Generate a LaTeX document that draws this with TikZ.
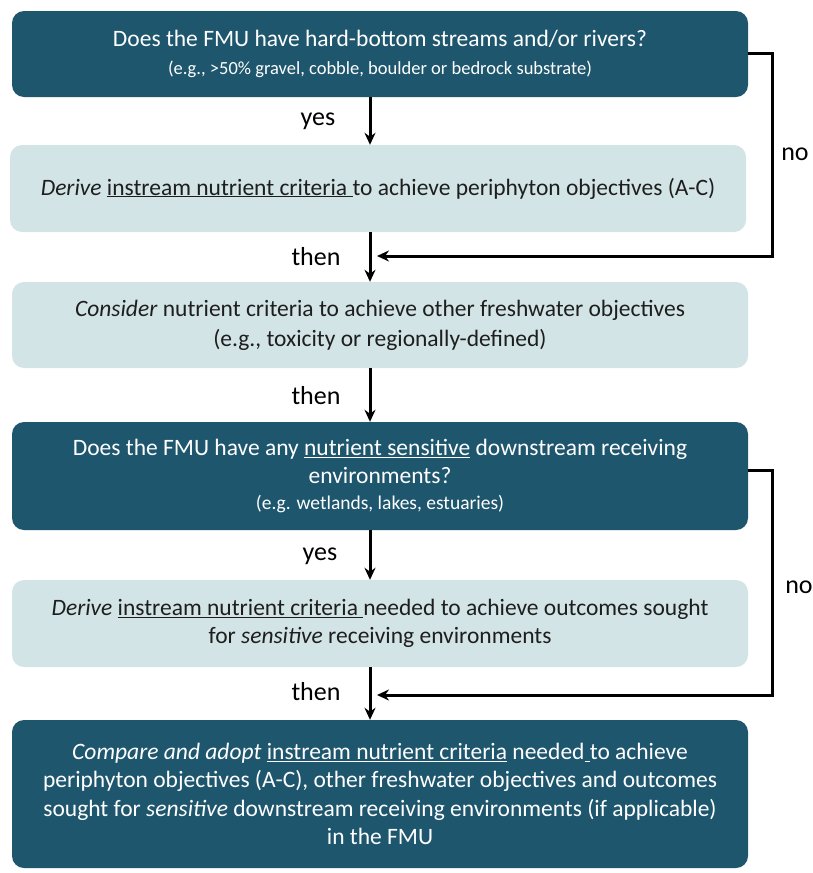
\documentclass[tikz,border=0pt]{standalone}
\usepackage{fontspec}
\setmainfont{Carlito}
\usetikzlibrary{arrows.meta}
\definecolor{darkbox}{RGB}{30,86,110}
\definecolor{lightbox}{RGB}{210,228,230}
\definecolor{txt}{RGB}{30,30,30}
\tikzset{
  box/.style={rounded corners=12pt, minimum width=736pt, align=center, inner sep=0pt},
  dark/.style={box, fill=darkbox, text=white},
  light/.style={box, fill=lightbox, text=txt},
  main/.style={font=\fontsize{23.5}{28.5}\selectfont},
  arr/.style={line width=3pt, -{Stealth[length=12pt,width=11pt]}},
  lbl/.style={font=\fontsize{26}{30}\selectfont, text=black}
}
\newcommand{\smalltxta}{\fontsize{18.5}{22}\selectfont}
\newcommand{\smalltxtb}{\fontsize{19.5}{22}\selectfont}
\begin{document}
\begin{tikzpicture}[x=1pt,y=-1pt]
\useasboundingbox (0,0) rectangle (813,873);
\node[dark, main, minimum height=86pt] (b1) at (380,54) {Does the FMU have hard-bottom streams and/or rivers?\\[-1pt]{\smalltxta (e.g., >50\% gravel, cobble, boulder or bedrock substrate)}};
\node[light, main, minimum height=87pt] (b2) at (378,188.5) {\textit{Derive} \underline{instream nutrient criteria\ }to achieve periphyton objectives (A-C)};
\node[light, main, minimum height=86pt] (b3) at (380,325) {\textit{Consider} nutrient criteria to achieve other freshwater objectives\\[1.5pt](e.g., toxicity or regionally-defined)};
\node[dark, main, minimum height=108pt] (b4) at (380,476) {Does the FMU have any \underline{nutrient sensitive} downstream receiving\\environments?\\[-3pt]{\smalltxtb (e.g. wetlands, lakes, estuaries)}};
\node[light, main, minimum height=87pt] (b5) at (380,623.5) {\textit{Derive} \underline{instream nutrient criteria\ }needed to achieve outcomes sought\\for \textit{sensitive} receiving environments};
\node[dark, main, minimum height=148pt] (b6) at (380,794) {\textit{Compare and adopt} \underline{instream nutrient criteria} needed\underline{\ }to achieve\\periphyton objectives (A-C), other freshwater objectives and outcomes\\sought for \textit{sensitive} downstream receiving environments (if applicable)\\in the FMU};
\coordinate (col) at (370,0);
\draw[arr] (b1.south -| col) -- (b2.north -| col);
\draw[arr] (b2.south -| col) -- (b3.north -| col);
\draw[arr] (b3.south -| col) -- (b4.north -| col);
\draw[arr] (b4.south -| col) -- (b5.north -| col);
\draw[arr] (b5.south -| col) -- (b6.north -| col);
\coordinate (n1) at (772,256);
\coordinate (j1) at (377,256);
\draw[arr] (b1.east |- 0,53) -| (n1) -- (j1);
\coordinate (n2) at (772,695);
\coordinate (j2) at (377,695);
\draw[arr] (b4.east |- 0,470) -| (n2) -- (j2);
\node[lbl] (yes1) at (318,121) {yes};
\node[lbl] (then1) at (316,257) {then};
\node[lbl] (then2) at (316,396) {then};
\node[lbl] (yes2) at (320,556) {yes};
\node[lbl] (then3) at (316,692) {then};
\node[lbl] (no1) at (795,154) {no};
\node[lbl] (no2) at (799,587) {no};
\end{tikzpicture}
\end{document}
